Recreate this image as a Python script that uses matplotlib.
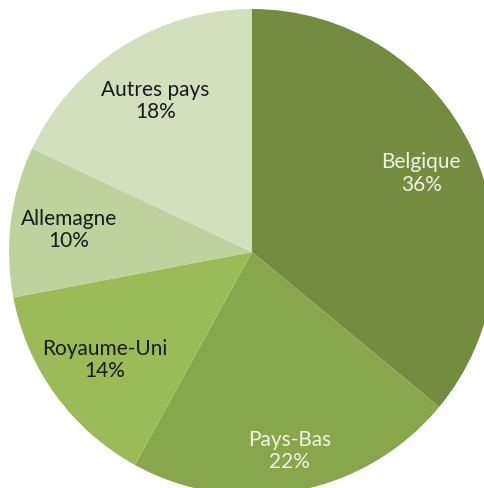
import numpy as np
import matplotlib.pyplot as plt

# Répartition par pays (%)
pays = ["Belgique", "Pays-Bas", "Royaume-Uni", "Allemagne", "Autres pays"]
parts = [36, 22, 14, 10, 18]

couleurs = ["#738c3f", "#88a64c", "#9bbb59", "#bdd29c", "#d3e0bd"]
couleurs_texte = ["#f2f2e4", "#f2f2e4", "#1a1a1a", "#1a1a1a", "#1a1a1a"]
dist_labels = [0.77, 0.83, 0.75, 0.76, 0.74]

fig = plt.figure(figsize=(4.85, 4.89), dpi=100)
ax = fig.add_axes([0, 0, 1, 1])

cx, cy, R = 252, 489 - 253, 243
wedges, _ = ax.pie(parts, colors=couleurs, startangle=90, counterclock=False,
                   center=(cx, cy), radius=R, frame=False,
                   wedgeprops=dict(linewidth=0))

for w, nom, p, c, d in zip(wedges, pays, parts, couleurs_texte, dist_labels):
    ang = np.deg2rad((w.theta1 + w.theta2) / 2)
    x = cx + d * R * np.cos(ang)
    y = cy + d * R * np.sin(ang)
    ax.text(x, y, f"{nom}\n{p}%", ha="center", va="center", color=c,
            fontsize=15, family="Lato", linespacing=1.15)

ax.set_xlim(0, 485)
ax.set_ylim(0, 489)
ax.set_aspect("equal")
ax.axis("off")

fig.savefig("out.png", dpi=100)
